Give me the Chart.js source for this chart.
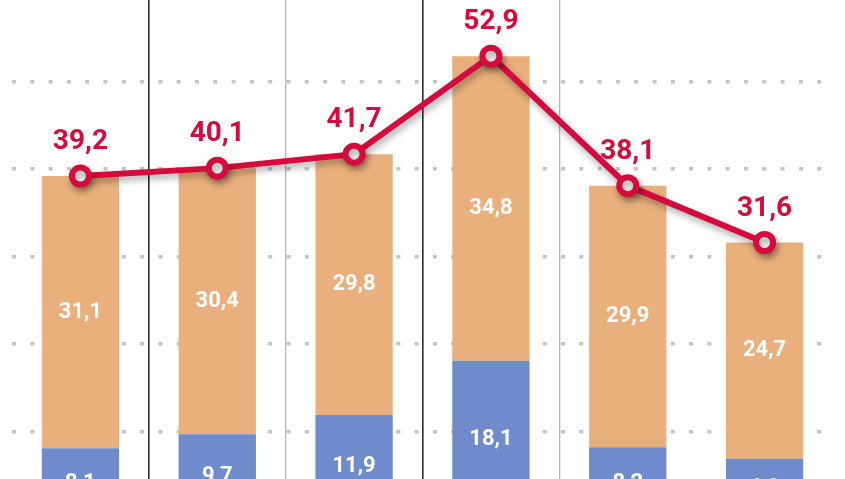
<!DOCTYPE html>
<html>
<head>
<meta charset="utf-8">
<script src="https://cdn.jsdelivr.net/npm/chart.js@4/dist/chart.umd.min.js"></script>
<style>
  html, body { margin: 0; padding: 0; background: #fff; overflow: hidden; }
  body { width: 845px; height: 479px; position: relative; }
  #wrap { position: absolute; left: 0; top: -6px; width: 845px; height: 525px; }
</style>
</head>
<body>
<div id="wrap"><canvas id="chart"></canvas></div>
<script>
// ── data ──────────────────────────────────────────────
const categories   = ['1', '2', '3', '4', '5', '6'];
const blueValues   = [8.1, 9.7, 11.9, 18.1, 8.2, 6.9];
const orangeValues = [31.1, 30.4, 29.8, 34.8, 29.9, 24.7];
const totalValues  = [39.2, 40.1, 41.7, 52.9, 38.1, 31.6];
const yTicks       = [10, 20, 30, 40, 50, 60];

// separators between categories (offset grid lines, index 0 = left edge)
const sepColors = ['rgba(0,0,0,0)', '#2b2b2b', '#b5b5b5', '#2b2b2b', '#b5b5b5', 'rgba(0,0,0,0)', 'rgba(0,0,0,0)'];
const sepWidths = [0, 1.6, 1.3, 1.6, 1.3, 0, 0];

const RED = '#d50b3e', ORANGE = '#e9b07d', BLUE = '#6f8bcb';

function fmt(n) { return n.toFixed(1).replace('.', ','); }

const lineShadow = {
    id: 'lineShadow',
    beforeDatasetDraw(chart, args) {
        if (args.meta.type !== 'line') return;
        const c = chart.ctx;
        c.save();
        c.shadowColor = 'rgba(0,0,0,0.35)';
        c.shadowBlur = 7;
        c.shadowOffsetX = 2;
        c.shadowOffsetY = 4;
    },
    afterDatasetDraw(chart, args) {
        if (args.meta.type !== 'line') return;
        chart.ctx.restore();
    }
};

const valueLabels = {
    id: 'valueLabels',
    afterDatasetsDraw(chart) {
        const c = chart.ctx;
        c.save();
        c.textAlign = 'center';
        chart.data.datasets.forEach((ds, i) => {
            const meta = chart.getDatasetMeta(i);
            meta.data.forEach((el, j) => {
                const v = ds.data[j];
                if (meta.type === 'bar') {
                    c.fillStyle = '#fff';
                    c.font = 'bold 22px Roboto';
                    c.textBaseline = 'middle';
                    c.fillText(fmt(v), el.x, (el.y + el.base) / 2);
                } else {
                    c.fillStyle = RED;
                    c.font = 'bold 28px Roboto';
                    c.textBaseline = 'alphabetic';
                    c.fillText(fmt(v), el.x, el.y - 27);
                }
            });
        });
        c.restore();
    }
};

new Chart(document.getElementById('chart'), {
    data: {
        labels: categories,
        datasets: [
            {
                type: 'line', label: 'total', data: totalValues, stack: 'total', order: 0,
                borderColor: RED, borderWidth: 6,
                pointRadius: 8.5, pointBorderWidth: 6,
                pointBackgroundColor: '#fff', pointBorderColor: RED,
                tension: 0
            },
            {
                type: 'bar', label: 'blue', data: blueValues, stack: 'bars', order: 1,
                backgroundColor: BLUE, categoryPercentage: 0.565, barPercentage: 1
            },
            {
                type: 'bar', label: 'orange', data: orangeValues, stack: 'bars', order: 1,
                backgroundColor: ORANGE, categoryPercentage: 0.565, barPercentage: 1
            }
        ]
    },
    options: {
        responsive: true, maintainAspectRatio: false,
        animation: false,
        layout: { autoPadding: false, padding: { left: 12, right: 12, top: 0, bottom: 0 } },
        plugins: { legend: { display: false }, tooltip: { enabled: false } },
        scales: {
            x: {
                stacked: true,
                ticks: { display: false },
                border: { display: false },
                grid: {
                    offset: true, drawTicks: false,
                    color: ctx => sepColors[ctx.index] || 'rgba(0,0,0,0)',
                    lineWidth: ctx => sepWidths[ctx.index] || 0
                }
            },
            y: {
                stacked: true,
                min: 0, max: 60,
                afterBuildTicks: s => { s.ticks = yTicks.map(v => ({ value: v })); },
                ticks: { display: false },
                border: { display: false, dash: [4, 14.3] },
                grid: { drawTicks: false, color: '#c4c4c4', lineWidth: 3.5 }
            }
        }
    },
    plugins: [lineShadow, valueLabels]
});
</script>
</body>
</html>
